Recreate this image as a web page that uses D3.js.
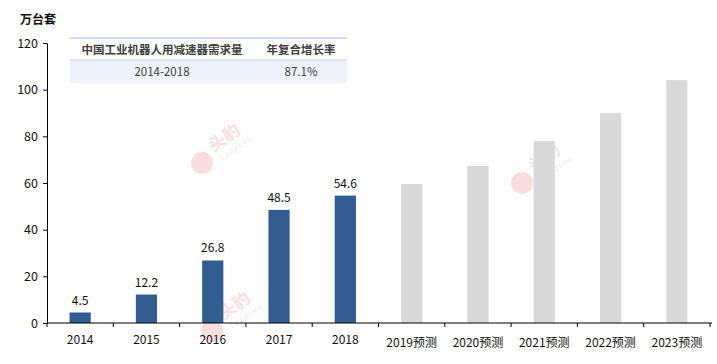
<!DOCTYPE html>
<html><head><meta charset="utf-8">
<script src="https://cdn.jsdelivr.net/npm/d3@7"></script>
<style>
body{margin:0;background:#fff;}
text{font-family:"Noto Sans CJK SC","Noto Sans",sans-serif;}
</style></head>
<body><svg id="c" width="717" height="364"></svg>
<script>
const categories = ["2014","2015","2016","2017","2018","2019预测","2020预测","2021预测","2022预测","2023预测"];
const actualValues = [4.5,12.2,26.8,48.5,54.6,null,null,null,null,null];
const forecastValues = [null,null,null,null,null,59.6,67.3,78.0,90.0,104.1];
const yTicks = [0,20,40,60,80,100,120];
const unitLabel = "万台套";
const tableHeader = ["中国工业机器人用减速器需求量","年复合增长率"];
const tableRow = ["2014-2018","87.1%"];

const svg = d3.select("#c");
const L=47, R=710, T=43, B=323;
const x = d3.scaleBand().domain(categories).range([L,R]).paddingInner(0.68).paddingOuter(0.34);
const y = d3.scaleLinear().domain([0,120]).range([B,T]);

// watermarks
const wm = [[210,150],[530,170],[220,318]];
wm.forEach(([wx,wy])=>{
  const g = svg.append("g").attr("transform",`translate(${wx},${wy}) rotate(-35)`).attr("opacity",0.2);
  g.append("circle").attr("cx",-14).attr("cy",6).attr("r",11).attr("fill","#e85a5a");
  g.append("text").attr("x",2).attr("y",4).attr("font-size",17).attr("font-weight","bold").attr("fill","#e85a5a").text("头豹");
  g.append("text").attr("x",4).attr("y",16).attr("font-size",7).attr("fill","#e85a5a").attr("letter-spacing",1.5).text("LeadLeo");
});

// bars
svg.append("g").selectAll("rect.f").data(categories.map((c,i)=>({c,v:forecastValues[i]})).filter(d=>d.v!=null))
  .join("rect").attr("x",d=>x(d.c)).attr("width",x.bandwidth()).attr("y",d=>y(d.v)).attr("height",d=>B-y(d.v)).attr("fill","#d9d9d9");
const act = categories.map((c,i)=>({c,v:actualValues[i]})).filter(d=>d.v!=null);
svg.append("g").selectAll("rect").data(act).join("rect")
  .attr("x",d=>x(d.c)).attr("width",x.bandwidth()).attr("y",d=>y(d.v)).attr("height",d=>B-y(d.v)).attr("fill","#335c91");
svg.append("g").selectAll("text").data(act).join("text")
  .attr("x",d=>x(d.c)+x.bandwidth()/2).attr("y",d=>y(d.v)-8).attr("text-anchor","middle")
  .attr("font-size",12).attr("fill","#111").text(d=>d.v.toFixed(1));

// y axis
const ya = svg.append("g").attr("transform",`translate(${L},0)`)
  .call(d3.axisLeft(y).tickValues(yTicks).tickSize(4).tickSizeOuter(0));
ya.select(".domain").attr("stroke","#000");
ya.selectAll("text").attr("font-size",12.5).attr("fill","#111").attr("dx",-2);
// x axis
const xa = svg.append("g").attr("transform",`translate(0,${B})`);
xa.append("line").attr("x1",L).attr("x2",R+2).attr("stroke","#000");
const step = x.step();
d3.range(categories.length+1).forEach(i=>{
  const xx = L + i*step;
  xa.append("line").attr("x1",xx).attr("x2",xx).attr("y1",0).attr("y2",4).attr("stroke","#000");
});
xa.selectAll("text.xl").data(categories).join("text")
  .attr("x",d=>x(d)+x.bandwidth()/2).attr("y",d=>d.length>4?24:21).attr("text-anchor","middle")
  .attr("font-size",12).attr("fill","#111").text(d=>d);

// unit label
svg.append("text").attr("x",20).attr("y",24).attr("font-size",12).attr("font-weight","bold").attr("fill","#111").text(unitLabel);

// table
const tx0=70, tx1=347;
svg.append("rect").attr("x",tx0).attr("y",60).attr("width",tx1-tx0).attr("height",23).attr("fill","#eef2fa");
svg.append("line").attr("x1",tx0).attr("x2",tx1).attr("y1",38).attr("y2",38).attr("stroke","#b8d0ea").attr("stroke-width",1.5);
svg.append("line").attr("x1",tx0).attr("x2",tx1).attr("y1",60).attr("y2",60).attr("stroke","#b8d0ea").attr("stroke-width",1);
const cx = [162,301];
tableHeader.forEach((t,i)=>svg.append("text").attr("x",cx[i]).attr("y",54).attr("text-anchor","middle").attr("font-size",11.5).attr("font-weight","bold").attr("fill","#404040").text(t));
tableRow.forEach((t,i)=>svg.append("text").attr("x",cx[i]).attr("y",76).attr("text-anchor","middle").attr("font-size",11.5).attr("fill","#404040").text(t));
</script></body></html>
